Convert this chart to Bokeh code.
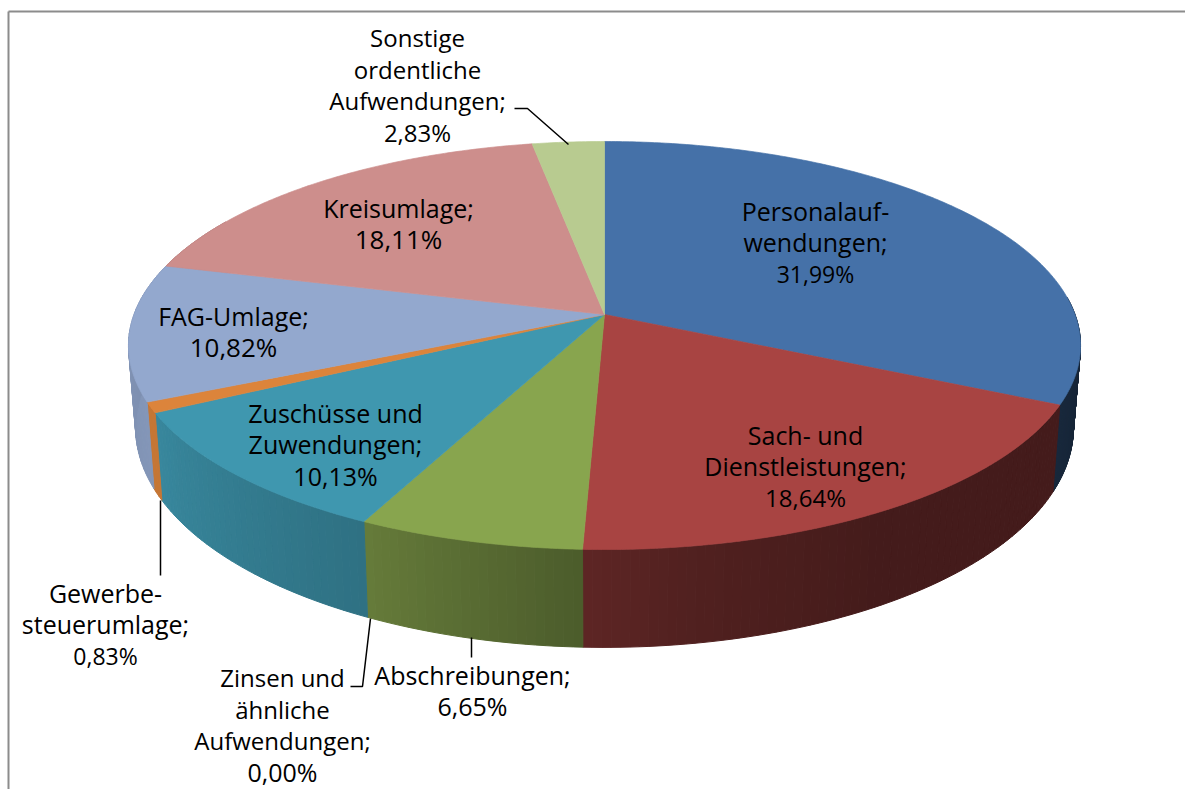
import numpy as np
from bokeh.plotting import figure
from bokeh.models import Range1d
from bokeh.core.properties import value
from bokeh.embed import file_html
from bokeh.resources import INLINE

# --- data ---
categories = [
    ["Personalauf-", "wendungen;"],
    ["Sach- und", "Dienstleistungen;"],
    ["Abschreibungen;"],
    ["Zinsen und", "ähnliche", "Aufwendungen;"],
    ["Zuschüsse und", "Zuwendungen;"],
    ["Gewerbe-", "steuerumlage;"],
    ["FAG-Umlage;"],
    ["Kreisumlage;"],
    ["Sonstige", "ordentliche", "Aufwendungen;"],
]
shares = [31.99, 18.64, 6.65, 0.00, 10.13, 0.83, 10.82, 18.11, 2.83]
colors = ["#4571a8", "#a84442", "#88a54e", "#d0d0d0", "#3f97af",
          "#dc843b", "#93a8ce", "#cd8e8c", "#b8cb90"]

# --- layout ---
W, H = 1185, 789
CX, CY = 604.0, 314.0
RX, RY, K = 470.5, 199.3, 0.152          # perspective of the top disc
BX, BY, BOFF = 0.985, 1.076, 394.0       # rim of the lower disc
label_pos = [(815, 210), (805, 434), (472, 674), (282, 677), (335, 412),
             (105, 592), (233, 315), (398, 207), (417, 37)]
name_size = ["25px", "25px", "25px", "24px", "25px", "25px", "25px", "25px", "24px"]
pct_size = ["23px", "24px", "25px", "25px", "25px", "23px", "26px", "26px", "24px"]
LINE = 31.5
leaders = [([514, 527, 568], [108, 108, 144]),
           ([160, 160], [500, 575]),
           ([370, 362, 350], [618, 686, 686]),
           ([471, 471], [637, 657])]


def top_xy(deg):
    a = np.radians(deg)
    u, v = np.sin(a), np.cos(a)
    d = 1 + K * v
    return CX + RX * u / d, CY - RY * v / d


def low_xy(deg):
    x, y = top_xy(deg)
    return CX + BX * (x - CX), BOFF + BY * (y - CY)


def shade(deg):
    return np.interp(deg, [90, 115.2, 115.3, 150, 170, 182.3, 206.2, 242.7, 270, 300],
                     [.30, .36, .41, .41, .48, .56, .75, .90, .86, .86])


def mix(c, f):
    r, g, b = (int(c[i:i + 2], 16) for i in (1, 3, 5))
    return "#%02x%02x%02x" % (int(r * f), int(g * f), int(b * f))


p = figure(width=W, height=H, x_range=Range1d(0, W), y_range=Range1d(H, 0),
           output_backend="svg", toolbar_location=None, min_border=0,
           outline_line_color=None, background_fill_color="white")
p.axis.visible = False
p.grid.visible = False

edges = np.concatenate([[0], np.cumsum(shares)]) * 3.6

# side wall, drawn in short strips so that its shading follows the rim
wx, wy, wc = [], [], []
for i, col in enumerate(colors):
    a0, a1 = edges[i], edges[i + 1]
    if a1 <= a0 or a1 < 85 or a0 > 300:
        continue
    steps = np.linspace(max(a0, 85), min(a1, 300), max(2, int(a1 - a0) + 2))
    for s0, s1 in zip(steps[:-1], steps[1:]):
        x0, y0 = top_xy(s0); x1, y1 = top_xy(s1)
        x2, y2 = low_xy(s1); x3, y3 = low_xy(s0)
        wx.append([x0, x1, x2, x3]); wy.append([y0, y1, y2, y3])
        wc.append(mix(col, shade((s0 + s1) / 2)))
p.patches(wx, wy, fill_color=wc, line_color=wc, line_width=1)

# top face
tx, ty, tc = [], [], []
for i, col in enumerate(colors):
    a0, a1 = edges[i], edges[i + 1]
    if a1 <= a0:
        continue
    ang = np.linspace(a0, a1, max(3, int((a1 - a0) * 2)))
    x, y = top_xy(ang)
    tx.append(np.r_[CX, x]); ty.append(np.r_[CY, y]); tc.append(col)
p.patches(tx, ty, fill_color=tc, line_color=tc, line_width=0.7)

# frame of the picture
p.line([8, 8], [H, 11], line_color="#8c8c8c", line_width=2)
p.line([8, W], [11, 11], line_color="#8c8c8c", line_width=2)

# leader lines
for lx, ly in leaders:
    p.line(lx, ly, line_color="black", line_width=1.5)

# labels
for lines, share, (lx, ly), ns, ps in zip(categories, shares, label_pos, name_size, pct_size):
    rows = lines + [f"{share:.2f}%".replace(".", ",")]
    for j, row in enumerate(rows):
        last = j == len(rows) - 1
        p.text([lx], [ly + j * LINE], text=[row], text_font=value("Open Sans"),
               text_font_size=ps if last else ns, text_color="black",
               text_align="center", text_baseline="middle")

open("out.html", "w").write(file_html(p, INLINE))
